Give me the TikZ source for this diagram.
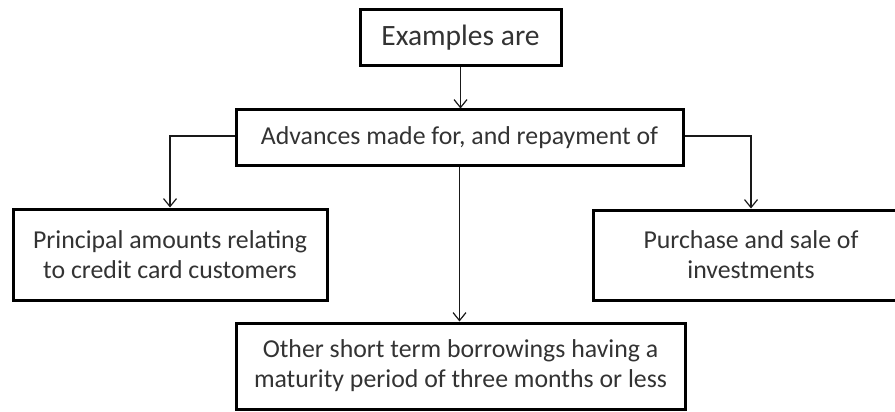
\documentclass[tikz,border=0pt]{standalone}
\usepackage{fontspec}
\setmainfont{Carlito}
\usetikzlibrary{arrows.meta}
\begin{document}
\begin{tikzpicture}[x=1pt,y=-1pt,
  box/.style={draw=black,line width=3pt,fill=white,align=center,
    text=black!80,font=\fontsize{25.8}{30}\selectfont,inner sep=0pt},
  link/.style={draw=black!90,line width=1.4pt,
    -{Straight Barb[length=8pt,width=13pt,line width=1.2pt]}}]
  \useasboundingbox (0,0) rectangle (895,412);
  \clip (0,0) rectangle (895,412);

  \node[box,minimum width=201,minimum height=56,
        font=\fontsize{29.5}{33}\selectfont] (ex) at (460.5,38) {Examples are};
  \node[box,minimum width=447,minimum height=55] (adv) at (459.5,137.5)
        {Advances made for, and repayment of};
  \node[box,minimum width=314,minimum height=91] (prin) at (170,254.5)
        {Principal amounts relating\\to credit card customers};
  \node[box,minimum width=316,minimum height=90] (purch) at (751,255)
        {Purchase and sale of\\investments};
  \node[box,minimum width=449,minimum height=86] (other) at (460.5,366)
        {Other short term borrowings having a\\maturity period of three months or less};

  \draw[link] (ex.south) -- (ex.south |- adv.north);
  \draw[link] ([yshift=1.5]adv.west) -| (prin.north);
  \draw[link] ([yshift=1.5]adv.east) -| (purch.north);
  \draw[link] (adv.south) -- (adv.south |- other.north);
\end{tikzpicture}
\end{document}
